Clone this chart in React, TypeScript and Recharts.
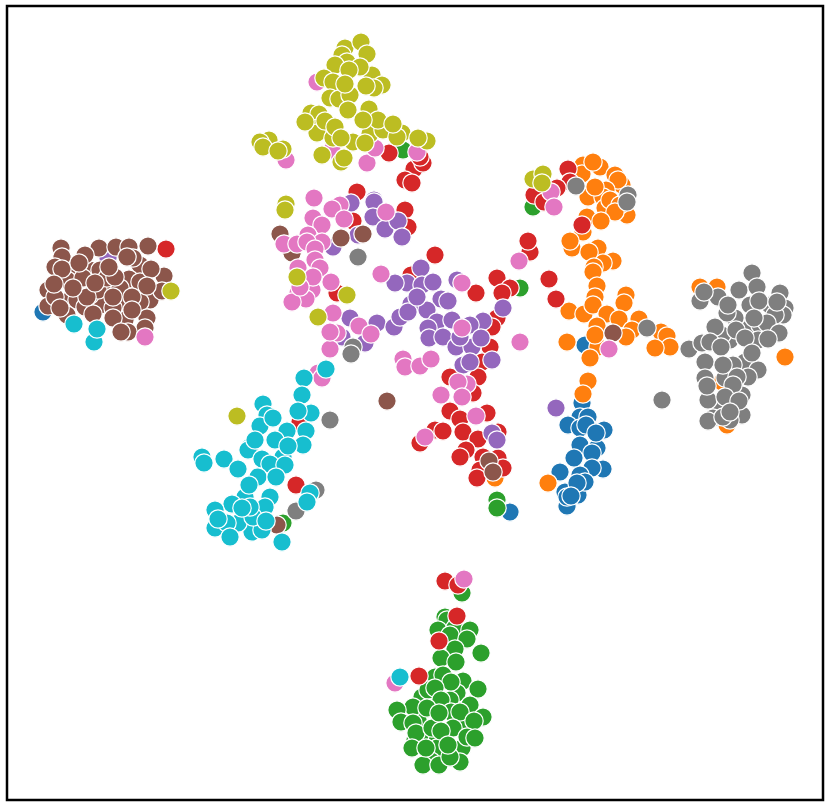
import React from 'react';
import { ScatterChart, Scatter, XAxis, YAxis, ReferenceArea } from 'recharts';

type Pt = [number, number];

// embedding points per class (no axis units on the original)
const class0: Pt[] = [[43, 312], [585, 345], [510, 512], [582, 403], [580, 417], [588, 417], [568, 425], [580, 428], [604, 430], [580, 445], [597, 448], [592, 453], [603, 469], [592, 468], [560, 472], [580, 475], [565, 492], [578, 495], [568, 502], [567, 506], [567, 497], [586, 425], [596, 433], [574, 458], [585, 482], [577, 483], [571, 496]];
const class1: Pt[] = [[583, 165], [600, 167], [615, 175], [622, 185], [618, 180], [582, 174], [606, 190], [588, 197], [603, 197], [627, 215], [605, 208], [587, 217], [583, 232], [572, 248], [598, 248], [613, 261], [603, 263], [610, 200], [620, 205], [593, 162], [595, 187], [615, 212], [601, 221], [570, 241], [589, 252], [594, 267], [593, 272], [597, 286], [595, 297], [626, 295], [624, 303], [569, 311], [584, 314], [593, 305], [607, 314], [619, 319], [597, 326], [639, 319], [632, 330], [626, 337], [661, 332], [667, 336], [670, 347], [655, 348], [567, 342], [598, 347], [590, 358], [595, 335], [588, 381], [583, 394], [548, 483], [495, 478], [700, 287], [717, 287], [785, 357], [722, 382], [727, 425]];
const class2: Pt[] = [[533, 207], [520, 288], [403, 150], [497, 500], [497, 508], [283, 523], [462, 593], [445, 617], [447, 620], [438, 630], [455, 628], [470, 630], [450, 635], [467, 639], [455, 649], [441, 658], [456, 662], [481, 653], [435, 677], [463, 681], [478, 689], [457, 693], [422, 697], [428, 690], [443, 675], [450, 700], [418, 720], [436, 738], [415, 740], [420, 735], [462, 748], [465, 725], [437, 748], [470, 705], [451, 682], [435, 688], [441, 700], [413, 707], [427, 708], [397, 710], [401, 722], [413, 723], [451, 712], [460, 712], [483, 717], [474, 721], [416, 733], [432, 728], [453, 728], [467, 737], [475, 738], [412, 748], [460, 762], [431, 761], [423, 765], [439, 765], [439, 713], [441, 731], [450, 757], [426, 748], [448, 745]];
const class3: Pt[] = [[166, 249], [389, 153], [414, 169], [405, 180], [412, 183], [423, 163], [420, 157], [357, 192], [353, 221], [405, 210], [408, 227], [435, 255], [337, 293], [411, 275], [568, 169], [534, 195], [570, 182], [582, 225], [557, 188], [544, 202], [497, 278], [476, 293], [510, 288], [502, 293], [530, 252], [528, 241], [549, 279], [556, 299], [497, 318], [492, 327], [490, 347], [482, 362], [450, 377], [478, 377], [473, 393], [450, 411], [460, 419], [487, 413], [463, 432], [478, 439], [435, 430], [443, 431], [420, 443], [466, 450], [460, 457], [498, 432], [483, 457], [498, 458], [480, 470], [477, 478], [503, 468], [296, 485], [300, 422], [445, 581], [458, 585], [457, 616], [439, 641], [419, 676]];
const class4: Pt[] = [[108, 258], [351, 203], [374, 200], [374, 202], [373, 217], [385, 229], [398, 221], [402, 237], [358, 235], [333, 247], [350, 318], [377, 323], [394, 327], [342, 337], [365, 343], [421, 268], [407, 283], [395, 283], [422, 285], [433, 282], [441, 299], [448, 301], [411, 304], [427, 310], [400, 317], [408, 312], [437, 322], [452, 320], [428, 328], [429, 338], [443, 337], [483, 321], [503, 308], [470, 325], [456, 347], [472, 347], [481, 338], [463, 365], [470, 362], [492, 360], [457, 280], [417, 297], [460, 337], [492, 433], [497, 440], [556, 408]];
const class5: Pt[] = [[75, 275], [90, 270], [105, 290], [125, 300], [100, 305], [70, 300], [125, 320], [140, 265], [150, 300], [90, 295], [61, 248], [99, 248], [116, 247], [129, 247], [148, 246], [133, 258], [62, 257], [55, 267], [85, 255], [100, 270], [164, 276], [129, 279], [98, 290], [162, 291], [48, 290], [48, 306], [77, 300], [85, 307], [93, 314], [113, 308], [140, 302], [113, 318], [147, 318], [145, 328], [128, 332], [67, 315], [120, 288], [67, 280], [83, 278], [107, 278], [87, 297], [55, 297], [115, 277], [140, 282], [280, 234], [341, 238], [363, 234], [292, 253], [387, 401], [489, 461], [493, 472], [613, 333], [277, 525], [62, 269], [79, 263], [127, 257], [109, 267], [151, 269], [54, 284], [73, 288], [95, 283], [147, 286], [113, 297], [132, 297], [132, 310], [60, 308], [121, 332]];
const class6: Pt[] = [[145, 337], [286, 160], [317, 82], [367, 163], [375, 148], [417, 152], [332, 150], [314, 198], [340, 205], [332, 209], [313, 218], [344, 219], [322, 225], [308, 235], [322, 242], [284, 244], [297, 244], [307, 242], [315, 249], [315, 260], [298, 268], [320, 268], [331, 282], [308, 280], [298, 293], [312, 290], [306, 299], [292, 302], [313, 277], [300, 287], [381, 274], [333, 313], [359, 326], [371, 334], [337, 333], [330, 349], [330, 332], [386, 212], [403, 359], [405, 367], [420, 366], [431, 359], [318, 373], [322, 378], [462, 283], [519, 261], [520, 342], [462, 328], [467, 384], [458, 382], [462, 397], [441, 395], [425, 437], [476, 416], [551, 192], [554, 207], [609, 349], [464, 579], [395, 683]];
const class7: Pt[] = [[745, 330], [730, 340], [760, 325], [750, 305], [770, 305], [735, 318], [722, 335], [745, 362], [725, 378], [742, 395], [722, 408], [735, 405], [358, 257], [353, 347], [351, 354], [576, 186], [628, 195], [627, 202], [647, 328], [689, 349], [662, 400], [330, 420], [316, 490], [296, 511], [752, 273], [739, 290], [757, 287], [700, 301], [718, 297], [780, 293], [785, 308], [783, 315], [775, 315], [727, 313], [767, 323], [779, 333], [715, 327], [758, 340], [768, 339], [702, 343], [710, 342], [705, 362], [733, 365], [758, 370], [748, 377], [737, 377], [705, 378], [733, 385], [708, 400], [725, 397], [742, 415], [713, 418], [708, 421], [730, 420], [723, 417], [704, 292], [759, 301], [777, 302], [728, 305], [754, 318], [736, 330], [745, 338], [721, 347], [752, 353], [723, 365], [707, 386], [739, 401], [730, 412]];
const class8: Pt[] = [[345, 48], [342, 55], [347, 62], [335, 65], [372, 75], [382, 85], [374, 88], [324, 78], [333, 82], [330, 98], [339, 99], [350, 95], [369, 109], [311, 113], [319, 114], [318, 128], [317, 133], [353, 142], [370, 134], [383, 130], [378, 120], [402, 133], [397, 137], [427, 141], [341, 162], [322, 155], [365, 143], [333, 138], [269, 140], [260, 142], [283, 149], [533, 179], [543, 174], [286, 204], [285, 210], [297, 277], [347, 295], [318, 317], [237, 416], [171, 291], [361, 42], [367, 54], [360, 67], [349, 70], [345, 84], [366, 86], [348, 110], [363, 120], [305, 122], [325, 121], [335, 127], [341, 138], [344, 158], [393, 124], [418, 138], [263, 147], [278, 151], [542, 183]];
const class9: Pt[] = [[74, 324], [94, 342], [97, 329], [304, 378], [302, 395], [263, 404], [311, 413], [267, 415], [260, 426], [306, 431], [287, 431], [275, 440], [303, 445], [250, 447], [248, 450], [202, 457], [224, 459], [238, 469], [283, 457], [262, 459], [270, 464], [285, 465], [258, 477], [270, 497], [310, 493], [245, 497], [232, 504], [215, 510], [215, 528], [265, 507], [252, 532], [262, 530], [238, 523], [253, 517], [227, 523], [250, 507], [326, 369], [298, 411], [273, 418], [255, 440], [288, 446], [204, 463], [276, 477], [249, 485], [307, 502], [242, 508], [218, 519], [230, 537], [266, 521], [282, 542], [400, 677]];

const groups = [class0, class1, class2, class3, class4, class5, class6, class7, class8, class9];
const COLORS = ['#1f77b4', '#ff7f0e', '#2ca02c', '#d62728', '#9467bd', '#8c564b', '#e377c2', '#7f7f7f', '#bcbd22', '#17becf'];

function Dot(props: any) {
  return <circle cx={props.cx} cy={props.cy} r={9.2} fill={props.fill} stroke="#fff" strokeWidth={1.2} />;
}

export default function App() {
  return (
    <div style={{ position: 'absolute', left: 0, top: 0, width: 830, height: 808, background: '#fff' }}>
      <ScatterChart width={830} height={808} margin={{ top: 6, right: 7, bottom: 8, left: 7 }}>
        <XAxis type="number" dataKey="x" domain={[7, 823]} hide />
        <YAxis type="number" dataKey="y" domain={[6, 800]} reversed hide />
        {groups.map((pts, i) => (
          <Scatter
            key={i}
            data={pts.map(([x, y]) => ({ x, y }))}
            fill={COLORS[i]}
            shape={<Dot />}
            isAnimationActive={false}
          />
        ))}
        <ReferenceArea x1={7} x2={823} y1={6} y2={800} fill="none" stroke="#000" strokeWidth={2.5} ifOverflow="visible" />
      </ScatterChart>
    </div>
  );
}
